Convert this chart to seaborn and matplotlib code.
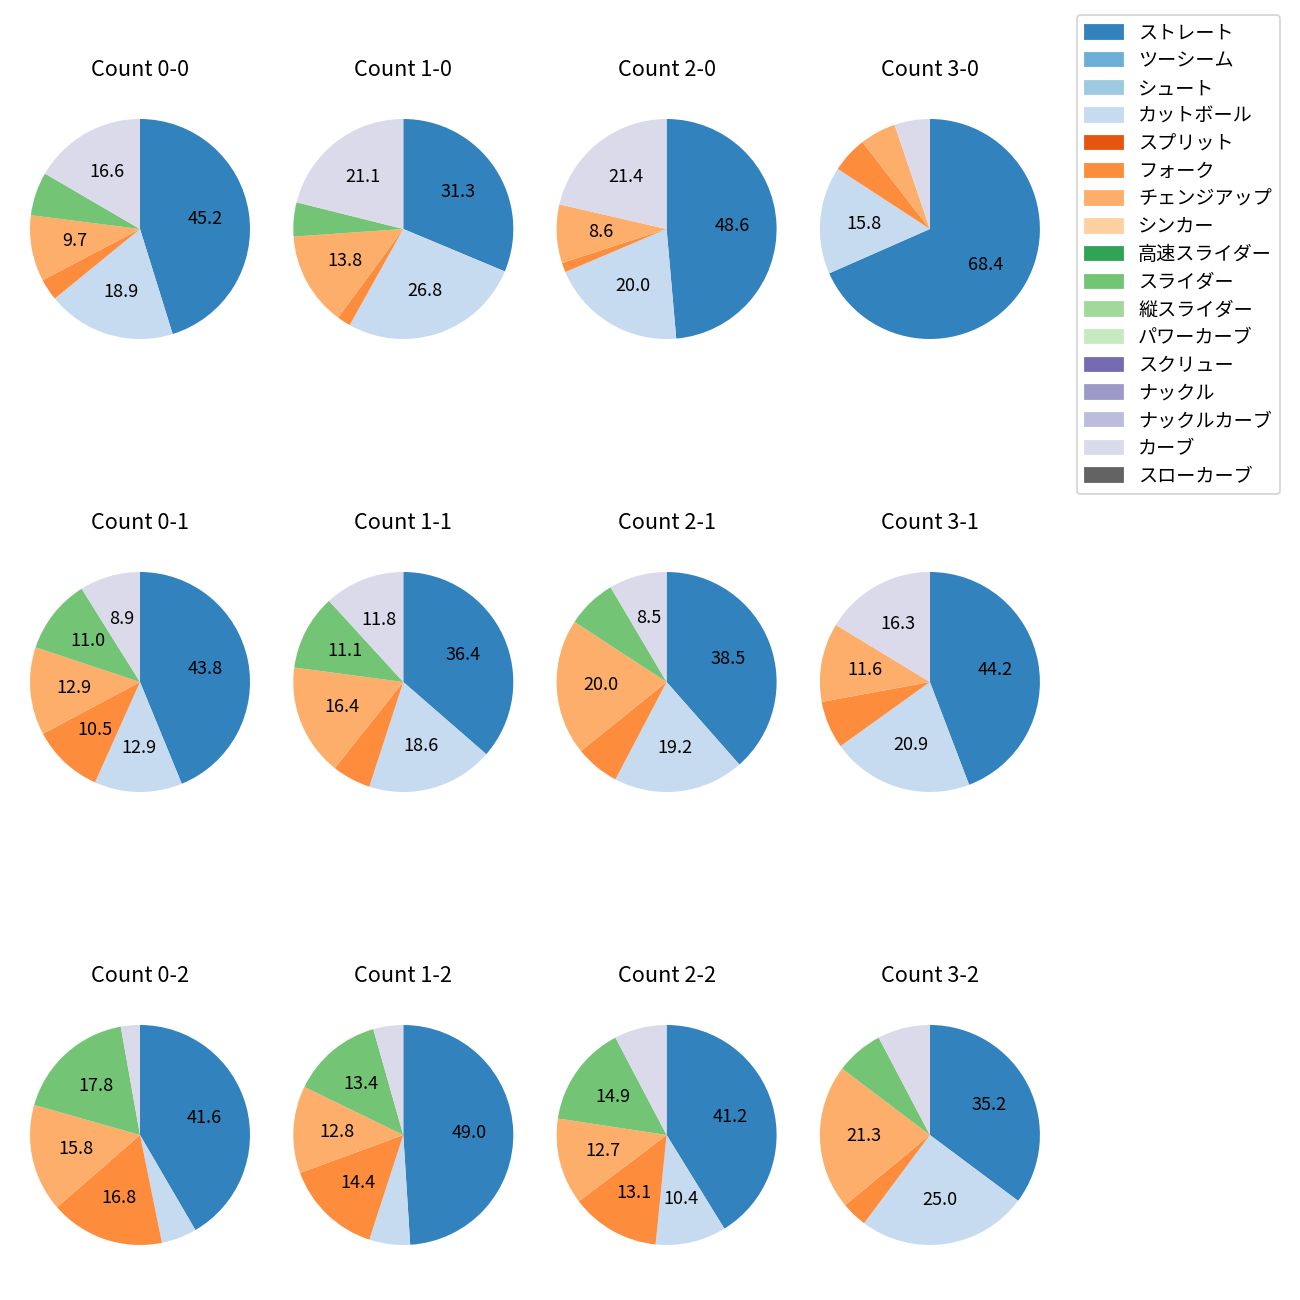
import matplotlib
matplotlib.use('Agg')
import matplotlib.pyplot as plt
import seaborn as sns
from matplotlib.patches import Patch

plt.rcParams['font.family'] = ['Noto Sans CJK JP', 'DejaVu Sans']

pitch_types = ['ストレート', 'ツーシーム', 'シュート', 'カットボール', 'スプリット', 'フォーク',
               'チェンジアップ', 'シンカー', '高速スライダー', 'スライダー', '縦スライダー',
               'パワーカーブ', 'スクリュー', 'ナックル', 'ナックルカーブ', 'カーブ', 'スローカーブ']

counts = ['0-0', '1-0', '2-0', '3-0', '0-1', '1-1', '2-1', '3-1', '0-2', '1-2', '2-2', '3-2']

# percentages per count (same order as counts)
straight = [45.2, 31.3, 48.6, 68.4, 43.8, 36.4, 38.5, 44.2, 41.6, 49.0, 41.2, 35.2]
cutball = [18.9, 26.8, 20.0, 15.8, 12.9, 18.6, 19.2, 20.9, 5.2, 6.0, 10.4, 25.0]
fork = [3.2, 2.0, 1.4, 5.3, 10.5, 5.7, 6.5, 7.0, 16.8, 14.4, 13.1, 3.8]
changeup = [9.7, 13.8, 8.6, 5.3, 12.9, 16.4, 20.0, 11.6, 15.8, 12.8, 12.7, 21.3]
slider = [6.4, 5.0, 0, 0, 11.0, 11.1, 7.3, 0, 17.8, 13.4, 14.9, 7.0]
curve = [16.6, 21.1, 21.4, 5.2, 8.9, 11.8, 8.5, 16.3, 2.8, 4.4, 7.7, 7.7]

series = {'ストレート': straight, 'カットボール': cutball, 'フォーク': fork,
          'チェンジアップ': changeup, 'スライダー': slider, 'カーブ': curve}

colors = sns.color_palette('tab20c', 20)[:17]
color_map = dict(zip(pitch_types, colors))

fig = plt.figure(figsize=(10, 10), dpi=130)
W, H = 1300, 1300
side = 275

for k, cnt in enumerate(counts):
    row, col = divmod(k, 4)
    cx = 140 + 263.3 * col
    cy = 229 + 453 * row
    ax = fig.add_axes([(cx - side / 2) / W, 1 - (cy + side / 2) / H, side / W, side / H])
    vals, cols = [], []
    for p in pitch_types:
        if p in series and series[p][k] > 0:
            vals.append(series[p][k])
            cols.append(color_map[p])
    ax.pie(vals, colors=cols, startangle=90, counterclock=False,
           autopct=lambda pct: f'{pct:.1f}' if pct >= 8 else '',
           textprops={'fontsize': 10})
    ax.set_title(f'Count {cnt}', fontsize=12, pad=8.6)

handles = [Patch(color=color_map[p], label=p) for p in pitch_types]
fig.legend(handles=handles, loc='upper left', bbox_to_anchor=(1077 / W, 1 - 15 / H),
           borderaxespad=0, fontsize=10.6, labelspacing=0.35)

fig.savefig('out.png', dpi=130)
